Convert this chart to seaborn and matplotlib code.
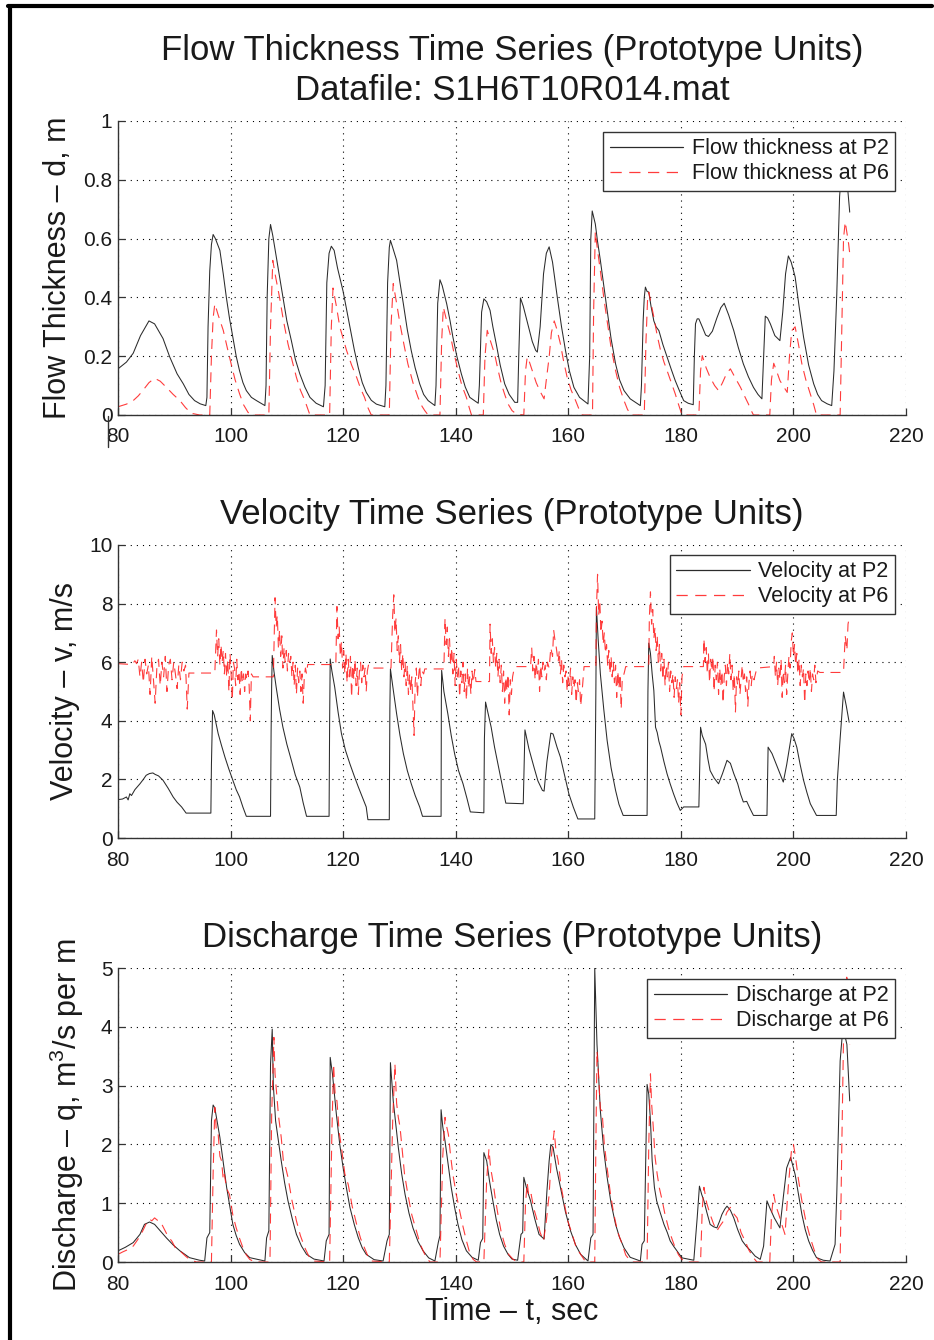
import matplotlib
matplotlib.use('Agg')
import matplotlib.pyplot as plt
import seaborn as sns
from matplotlib.lines import Line2D
from matplotlib.ticker import FormatStrFormatter

# ---------------- data ----------------
x_ticks = [80, 100, 120, 140, 160, 180, 200, 220]
thick_ticks = [0, 0.2, 0.4, 0.6, 0.8, 1]
vel_ticks = [0, 2, 4, 6, 8, 10]
q_ticks = [0, 1, 2, 3, 4, 5]

thick_p2_pts = [(80,0.157),(81.5,0.18),(82.7,0.21),(84.0,0.27),(85.5,0.32),(86.5,0.31),(88.0,0.26),(89.2,0.197),(90.5,0.14),(91.6,0.106),(92.6,0.07),(93.6,0.049),(94.6,0.038),(95.6,0.032),(95.8,0.06),(96.0,0.3),(96.3,0.49),(96.6,0.58),(96.9,0.614),(97.3,0.60),(98.1,0.56),(98.7,0.48),(99.25,0.40),(99.8,0.33),(100.4,0.265),(101.0,0.20),(101.6,0.15),(102.2,0.11),(102.8,0.083),(103.7,0.06),(104.6,0.049),(106.1,0.032),(106.3,0.1),(106.5,0.4),(106.8,0.6),(107.1,0.648),(107.5,0.61),(108.1,0.54),(108.7,0.47),(109.3,0.40),(110.0,0.32),(110.8,0.253),(111.5,0.19),(112.3,0.14),(113.2,0.095),(114.1,0.06),(115.2,0.04),(116.5,0.028),(116.8,0.1),(117.1,0.45),(117.5,0.55),(117.9,0.574),(118.4,0.56),(119.0,0.50),(120.0,0.42),(120.6,0.36),(121.2,0.30),(122.0,0.22),(122.7,0.16),(123.4,0.11),(124.1,0.077),(125.0,0.05),(125.9,0.037),(127.4,0.028),(127.6,0.1),(127.9,0.45),(128.2,0.57),(128.4,0.594),(128.8,0.57),(129.5,0.526),(130.1,0.45),(130.7,0.378),(131.4,0.29),(132.1,0.219),(132.8,0.16),(133.6,0.106),(134.3,0.07),(135.1,0.049),(136.3,0.032),(136.5,0.1),(136.8,0.38),(137.2,0.46),(137.6,0.44),(138.4,0.378),(139.0,0.32),(139.5,0.265),(140.2,0.2),(141.0,0.14),(141.7,0.095),(142.5,0.06),(144.0,0.04),(144.2,0.1),(144.6,0.35),(145.0,0.395),(145.5,0.385),(146.1,0.356),(146.6,0.30),(147.2,0.242),(147.9,0.17),(148.7,0.106),(149.5,0.07),(150.5,0.043),(151.0,0.043),(151.2,0.2),(151.5,0.398),(152.0,0.37),(152.8,0.31),(153.6,0.25),(154.2,0.22),(154.5,0.214),(155.0,0.3),(155.6,0.48),(156.1,0.55),(156.6,0.572),(157.2,0.52),(158.05,0.40),(158.8,0.30),(159.5,0.22),(160.2,0.15),(161.0,0.094),(162.0,0.06),(163.5,0.0375),(163.8,0.2),(164.0,0.6),(164.25,0.694),(164.8,0.65),(165.2,0.59),(165.7,0.526),(166.3,0.44),(166.9,0.356),(167.6,0.26),(168.4,0.174),(169.1,0.12),(169.9,0.083),(171.0,0.055),(172.8,0.032),(173.0,0.1),(173.3,0.32),(173.5,0.40),(173.7,0.435),(174.0,0.42),(174.3,0.418),(174.7,0.37),(175.2,0.32),(175.6,0.30),(176.1,0.287),(176.8,0.24),(177.55,0.197),(178.3,0.155),(179.0,0.117),(179.8,0.08),(180.5,0.049),(181.3,0.04),(182.2,0.035),(182.4,0.2),(182.6,0.31),(182.9,0.327),(183.2,0.327),(183.8,0.30),(184.4,0.272),(184.9,0.267),(185.6,0.285),(186.4,0.33),(187.1,0.365),(187.7,0.38),(188.5,0.34),(189.4,0.287),(190.2,0.23),(191.1,0.174),(192.0,0.13),(192.9,0.094),(193.7,0.07),(194.4,0.055),(194.7,0.2),(195.0,0.336),(195.4,0.33),(195.9,0.31),(196.7,0.27),(197.6,0.253),(198.1,0.35),(198.6,0.48),(199.1,0.541),(199.6,0.52),(200.3,0.47),(201.0,0.37),(201.8,0.265),(202.7,0.17),(203.6,0.106),(204.3,0.07),(205.0,0.049),(206.0,0.038),(206.8,0.032),(207.2,0.15),(207.7,0.41),(208.2,0.742),(208.6,0.85),(209.0,0.9),(209.5,0.8),(210.0,0.69)]

thick_p6_pts = [(80,0.028),(81.5,0.037),(82.7,0.049),(83.6,0.065),(84.4,0.083),(85.5,0.11),(86.5,0.125),(87.5,0.115),(88.6,0.094),(89.8,0.07),(91.0,0.049),(92.0,0.025),(93.0,0.006),(94.5,0.0),(96.3,0.0),(96.6,0.2),(96.9,0.33),(97.2,0.378),(97.8,0.34),(98.7,0.288),(99.4,0.23),(100.1,0.174),(100.8,0.12),(101.6,0.072),(102.3,0.035),(103.1,0.009),(103.7,0.0),(106.8,0.0),(107.1,0.3),(107.5,0.526),(108.0,0.47),(108.7,0.40),(109.4,0.32),(110.2,0.242),(111.0,0.18),(111.7,0.128),(112.4,0.085),(113.2,0.049),(114.1,0.0),(117.6,0.0),(117.9,0.3),(118.2,0.432),(118.8,0.37),(119.4,0.30),(120.0,0.26),(120.6,0.22),(121.5,0.17),(122.4,0.128),(123.1,0.09),(123.8,0.06),(124.4,0.025),(125.0,0.0),(128.2,0.0),(128.5,0.3),(128.9,0.447),(129.5,0.38),(130.1,0.31),(130.8,0.24),(131.5,0.174),(132.4,0.11),(133.3,0.06),(134.0,0.03),(134.5,0.015),(135.1,0.0),(137.2,0.0),(137.5,0.25),(137.8,0.367),(138.4,0.32),(139.0,0.276),(139.7,0.21),(140.4,0.151),(141.1,0.1),(141.9,0.06),(142.4,0.025),(142.8,0.0),(144.9,0.0),(145.2,0.2),(145.6,0.288),(146.2,0.25),(146.9,0.208),(147.5,0.155),(148.1,0.106),(148.7,0.07),(149.3,0.0375),(150.0,0.015),(150.8,0.003),(152.1,0.0),(152.4,0.15),(152.7,0.197),(153.1,0.18),(153.6,0.151),(154.3,0.11),(155.0,0.08),(155.7,0.055),(156.1,0.12),(156.6,0.197),(157.0,0.28),(157.5,0.32),(158.0,0.29),(158.6,0.242),(159.2,0.18),(159.8,0.128),(160.5,0.085),(161.3,0.049),(161.9,0.02),(162.5,0.0),(164.3,0.0),(164.5,0.35),(164.8,0.623),(165.2,0.56),(165.7,0.49),(166.3,0.40),(166.9,0.32),(167.6,0.23),(168.4,0.151),(169.1,0.095),(169.9,0.049),(170.5,0.02),(171.1,0.0),(173.5,0.0),(173.8,0.25),(174.1,0.40),(174.3,0.418),(174.7,0.38),(175.2,0.333),(175.8,0.27),(176.4,0.219),(177.0,0.18),(177.55,0.151),(178.3,0.11),(179.0,0.072),(179.6,0.035),(180.2,0.0),(183.2,0.0),(183.5,0.15),(183.8,0.202),(184.5,0.16),(185.2,0.128),(186.0,0.10),(186.7,0.083),(187.4,0.11),(188.1,0.14),(188.8,0.157),(189.7,0.125),(190.6,0.094),(191.3,0.065),(192.0,0.0375),(192.5,0.015),(192.9,0.0),(195.8,0.0),(196.1,0.12),(196.5,0.176),(197.0,0.15),(197.6,0.117),(198.3,0.095),(198.9,0.077),(199.3,0.2),(199.7,0.287),(200.3,0.30),(200.9,0.24),(201.5,0.174),(202.2,0.12),(203.0,0.072),(203.6,0.035),(204.1,0.0),(208.3,0.0),(208.6,0.3),(208.9,0.6),(209.2,0.657),(209.5,0.62),(209.8,0.583),(210.0,0.55)]

vel_p2_pts = [(80,1.31),(80.8,1.33),(81.5,1.40),(81.8,1.30),(82.1,1.51),(82.4,1.45),(83.0,1.65),(83.9,1.85),(84.5,2.0),(85.0,2.14),(85.6,2.2),(86.2,2.22),(86.6,2.17),(87.2,2.12),(88.0,1.97),(88.9,1.70),(89.8,1.40),(90.5,1.22),(91.3,1.06),(92.1,0.85),(96.5,0.85),(96.6,2.5),(96.8,4.35),(97.1,4.2),(97.8,3.56),(98.4,3.15),(99.0,2.76),(99.7,2.35),(100.4,1.97),(101.0,1.65),(101.6,1.40),(102.2,1.05),(102.8,0.74),(107.1,0.74),(107.2,3.6),(107.3,5.2),(107.4,6.23),(107.7,5.7),(108.1,5.15),(108.7,4.4),(109.3,3.78),(110.0,3.2),(110.8,2.65),(111.5,2.15),(112.3,1.74),(112.9,1.2),(113.5,0.74),(117.5,0.74),(117.6,4.0),(117.7,6.11),(118.0,5.7),(118.5,5.15),(119.1,4.3),(119.7,3.56),(120.4,3.0),(121.2,2.53),(122.0,2.1),(122.7,1.74),(123.4,1.4),(124.1,1.06),(124.4,0.625),(128.2,0.625),(128.3,4.4),(128.4,5.77),(128.8,5.2),(129.5,4.24),(130.1,3.5),(130.7,2.88),(131.4,2.3),(132.1,1.85),(132.8,1.45),(133.6,1.06),(134.1,0.74),(137.4,0.74),(137.45,4.8),(137.5,5.72),(137.9,5.0),(138.6,4.24),(139.2,3.5),(139.8,2.88),(140.5,2.3),(141.3,1.85),(142.0,1.35),(142.6,0.89),(145.0,0.86),(145.1,3.4),(145.3,4.64),(145.7,4.3),(146.3,3.78),(146.9,3.1),(147.5,2.53),(148.2,1.85),(148.9,1.19),(152.0,1.17),(152.3,3.69),(153.0,3.05),(153.9,2.42),(154.6,1.95),(155.4,1.625),(155.7,1.6),(156.2,2.6),(156.9,3.58),(157.3,3.55),(158.0,3.1),(158.6,2.76),(159.4,2.1),(160.1,1.51),(160.9,1.05),(161.7,0.65),(164.7,0.65),(164.9,5.0),(165.0,7.875),(165.3,6.8),(165.7,5.6),(166.3,4.4),(166.9,3.33),(167.6,2.4),(168.4,1.625),(169.0,1.15),(169.75,0.77),(174.0,0.77),(174.15,5.0),(174.3,6.65),(174.6,6.3),(174.9,5.6),(175.2,5.03),(175.5,3.78),(175.8,3.6),(176.1,3.3),(176.4,3.1),(177.0,2.6),(177.55,2.19),(178.1,1.85),(178.7,1.51),(179.3,1.2),(179.9,0.94),(180.5,1.06),(183.2,1.06),(183.5,3.78),(183.8,3.5),(184.4,3.2),(184.8,2.7),(185.2,2.3),(185.9,2.05),(186.7,1.85),(187.4,2.2),(188.2,2.65),(188.8,2.55),(189.4,2.2),(190.1,1.85),(190.6,1.5),(191.1,1.23),(191.7,1.25),(192.3,1.0),(192.9,0.77),(195.3,0.77),(195.5,3.10),(196.2,2.88),(197.2,2.4),(198.2,1.91),(198.8,2.5),(199.7,3.56),(200.1,3.4),(200.6,3.1),(201.2,2.5),(201.8,1.97),(202.4,1.55),(203.0,1.17),(204.1,0.77),(207.6,0.77),(207.8,1.97),(208.3,3.4),(208.9,4.98),(209.4,4.5),(209.9,3.95)]

vel_p6_pts = [(80,5.95),(82.5,5.92),(83.0,6.05),(83.3,5.95),(83.6,6.1),(83.9,5.5),(84.2,6.0),(84.5,5.3),(84.8,6.1),(85.1,5.6),(85.4,5.9),(85.7,4.9),(86.0,6.2),(86.3,5.4),(86.6,4.6),(86.9,5.8),(87.2,6.1),(87.5,5.2),(87.8,6.0),(88.1,5.5),(88.4,6.2),(88.7,5.0),(89.0,5.9),(89.3,6.1),(89.6,5.4),(89.9,6.0),(90.2,5.6),(90.5,5.1),(90.8,5.9),(91.1,5.4),(91.4,6.0),(91.7,5.7),(92.0,5.9),(92.3,4.4),(92.6,5.63),(97.2,5.63),
(97.5,7.1),(97.7,6.2),(97.9,6.8),(98.1,5.9),(98.3,6.6),(98.5,6.0),(98.7,6.4),(98.9,5.6),(99.1,6.3),(99.3,5.5),(99.5,6.1),(99.7,5.0),(99.9,6.3),(100.1,5.6),(100.3,4.7),(100.5,6.0),(100.7,5.8),(100.9,5.2),(101.1,6.1),(101.3,5.4),(101.5,5.7),(101.7,4.9),(101.9,5.8),(102.1,5.3),(102.3,5.6),(102.5,5.0),(102.7,5.6),(102.9,5.4),(103.1,5.7),(103.3,5.2),(103.5,4.0),(103.7,5.6),(104.0,5.5),(107.6,5.5),
(107.9,8.2),(108.1,7.2),(108.3,7.6),(108.5,6.5),(108.7,7.1),(108.9,6.2),(109.1,6.9),(109.3,5.8),(109.5,6.5),(109.7,6.0),(109.9,6.4),(110.1,5.7),(110.3,6.3),(110.5,6.0),(110.7,6.2),(110.9,5.5),(111.1,6.0),(111.3,5.2),(111.5,5.9),(111.7,4.9),(111.9,5.8),(112.1,5.3),(112.3,5.7),(112.5,5.0),(112.7,5.6),(112.9,4.6),(113.1,5.5),(113.3,5.8),(113.5,5.6),(113.7,5.92),(118.7,5.92),
(118.9,7.9),(119.1,6.8),(119.3,7.2),(119.5,6.2),(119.7,6.7),(119.9,5.8),(120.1,6.4),(120.3,5.6),(120.5,6.3),(120.7,5.3),(120.9,6.1),(121.1,5.5),(121.3,6.2),(121.5,4.8),(121.7,5.9),(121.9,5.4),(122.1,6.1),(122.3,5.2),(122.5,5.8),(122.7,4.9),(122.9,5.7),(123.1,6.0),(123.3,5.3),(123.5,5.9),(123.7,5.5),(123.9,5.8),(124.1,5.0),(124.3,5.7),(124.5,5.9),(124.7,5.8),(128.5,5.8),
(128.8,7.6),(129.0,8.3),(129.2,7.0),(129.4,7.5),(129.6,6.4),(129.8,6.9),(130.0,6.0),(130.2,6.6),(130.4,5.7),(130.6,6.3),(130.8,5.5),(131.0,6.0),(131.2,5.2),(131.4,5.9),(131.6,4.9),(131.8,5.6),(132.0,5.0),(132.2,5.5),(132.4,4.5),(132.6,3.5),(132.8,5.3),(133.0,5.8),(133.2,4.8),(133.4,5.5),(133.6,5.9),(133.8,5.2),(134.0,5.7),(134.3,5.6),(134.5,5.77),(137.9,5.77),
(138.1,7.5),(138.3,6.6),(138.5,7.2),(138.7,6.2),(138.9,6.8),(139.1,5.9),(139.3,6.5),(139.5,5.6),(139.7,6.3),(139.9,5.2),(140.1,6.1),(140.3,5.5),(140.5,5.9),(140.7,4.8),(140.9,5.7),(141.1,5.3),(141.3,6.0),(141.5,5.0),(141.7,5.6),(141.9,4.7),(142.1,5.8),(142.3,5.1),(142.5,5.5),(142.7,4.9),(142.9,5.7),(143.1,5.3),(143.4,5.75),(143.6,5.34),(146.0,5.34),
(146.1,7.3),(146.3,6.3),(146.5,6.8),(146.7,6.0),(146.9,6.5),(147.1,5.8),(147.3,6.3),(147.5,5.5),(147.7,6.1),(147.9,5.3),(148.1,5.9),(148.3,5.0),(148.5,5.7),(148.7,4.6),(148.9,5.5),(149.1,5.0),(149.3,5.6),(149.5,4.2),(149.7,5.4),(149.9,4.9),(150.1,5.5),(150.4,5.8),(150.6,5.85),(153.3,5.85),
(153.5,6.5),(153.7,5.7),(153.9,6.2),(154.1,5.4),(154.3,6.0),(154.5,5.6),(154.7,6.1),(154.9,5.0),(155.1,5.9),(155.3,5.5),(155.5,6.0),(155.7,5.7),(155.9,5.9),(156.1,5.4),(156.3,6.0),(156.6,5.8),(156.9,6.5),(157.2,6.2),(157.4,7.1),(157.6,6.8),(157.8,6.6),(158.0,6.3),(158.2,6.0),(158.4,6.4),(158.6,5.6),(158.8,6.1),(159.0,5.3),(159.2,5.9),(159.4,5.5),(159.6,5.7),(159.8,5.0),(160.0,5.6),(160.2,5.2),(160.4,5.8),(160.6,4.9),(160.8,5.5),(161.0,5.1),(161.2,5.4),(161.4,4.6),(161.6,5.3),(161.8,5.0),(162.0,5.4),(162.2,4.5),(162.5,5.1),(162.8,5.85),(164.9,5.85),
(165.0,7.8),(165.2,9.0),(165.4,7.6),(165.6,8.1),(165.8,7.0),(166.0,7.4),(166.2,6.6),(166.4,7.0),(166.6,6.3),(166.8,6.6),(167.0,5.9),(167.2,6.4),(167.4,5.6),(167.6,6.2),(167.8,5.5),(168.0,6.0),(168.2,5.3),(168.4,5.9),(168.6,4.8),(168.8,5.7),(169.0,5.1),(169.2,5.6),(169.4,4.4),(169.6,5.5),(169.9,5.6),(170.2,5.85),(174.3,5.85),
(174.4,7.5),(174.6,8.4),(174.8,7.3),(175.0,7.8),(175.2,6.8),(175.4,7.2),(175.6,6.4),(175.8,6.9),(176.0,6.0),(176.2,6.6),(176.4,5.7),(176.6,6.3),(176.8,5.4),(177.0,6.1),(177.2,5.2),(177.4,5.9),(177.6,5.5),(177.8,6.0),(178.0,5.0),(178.2,5.7),(178.4,5.3),(178.6,5.6),(178.8,4.8),(179.0,5.5),(179.2,5.1),(179.4,5.4),(179.6,4.6),(179.8,5.3),(180.0,4.2),(180.2,5.5),(180.5,5.85),(184.0,5.85),
(184.1,6.8),(184.3,6.0),(184.5,6.5),(184.7,5.6),(184.9,6.3),(185.1,5.3),(185.3,6.1),(185.5,5.7),(185.7,6.2),(185.9,5.0),(186.1,5.9),(186.3,5.4),(186.5,6.0),(186.7,4.9),(186.9,5.8),(187.1,5.2),(187.3,5.7),(187.5,4.6),(187.7,5.5),(187.9,5.9),(188.1,5.2),(188.3,6.0),(188.5,5.6),(188.7,6.3),(188.9,5.4),(189.1,5.9),(189.3,5.0),(189.5,5.6),(189.7,4.3),(189.9,5.5),(190.1,5.2),(190.3,5.7),(190.5,4.9),(190.7,5.4),(190.9,5.9),(191.1,5.3),(191.3,5.6),(191.5,5.0),(191.7,5.5),(191.9,4.5),(192.1,5.3),(192.3,5.7),(192.5,5.2),(192.7,5.6),(193.0,5.4),(193.5,5.8),(196.5,5.85),
(196.6,6.2),(196.8,5.5),(197.0,6.0),(197.2,5.2),(197.4,5.8),(197.6,5.4),(197.8,6.1),(198.0,4.8),(198.2,5.7),(198.4,5.3),(198.6,5.9),(198.8,4.9),(199.0,5.6),(199.2,6.2),(199.4,5.8),(199.6,6.7),(199.8,7.0),(200.0,6.2),(200.2,6.6),(200.4,5.9),(200.6,6.3),(200.8,5.6),(201.0,6.1),(201.2,5.2),(201.4,5.9),(201.6,5.5),(201.8,5.8),(202.0,4.6),(202.2,5.6),(202.4,5.2),(202.6,5.7),(202.8,5.3),(203.0,5.8),(203.2,5.0),(203.4,5.6),(203.6,5.4),(203.8,5.9),(204.0,5.3),(204.3,5.7),(204.7,5.65),(208.9,5.65),(209.2,6.9),(209.5,6.4),(209.7,7.3),(210.0,7.6)]

q_p2_pts = [(80,0.19),(81.3,0.25),(82.7,0.33),(83.9,0.47),(84.7,0.64),(85.6,0.68),(86.5,0.64),(87.5,0.53),(88.6,0.41),(89.8,0.29),(91.0,0.19),(92.7,0.074),(94.5,0.03),(95.4,0.017),(95.8,0.41),(96.3,0.5),(96.6,2.4),(96.9,2.67),(97.2,2.62),(98.1,2.12),(98.7,1.7),(99.3,1.27),(99.9,0.93),(100.4,0.64),(101.0,0.45),(101.6,0.3),(102.5,0.16),(103.4,0.074),(106.1,0.017),(106.4,0.41),(106.8,0.53),(107.1,3.37),(107.4,3.96),(107.6,3.0),(108.0,2.4),(109.0,1.72),(109.6,1.35),(110.2,1.04),(111.0,0.72),(111.7,0.47),(112.6,0.27),(113.5,0.13),(114.8,0.05),(116.6,0.017),(117.0,0.36),(117.5,0.47),(117.7,3.48),(118.1,3.2),(118.8,2.51),(119.4,2.0),(120.0,1.6),(120.6,1.25),(121.2,0.93),(122.0,0.63),(122.7,0.41),(123.4,0.24),(124.1,0.13),(125.5,0.04),(127.1,0.017),(127.8,0.36),(128.2,0.47),(128.4,3.39),(128.9,2.74),(129.4,2.3),(129.8,1.95),(130.4,1.5),(131.0,1.15),(131.7,0.83),(132.4,0.58),(133.3,0.35),(134.2,0.19),(135.2,0.07),(136.3,0.017),(136.9,0.33),(137.2,0.45),(137.4,2.59),(137.7,2.3),(138.1,2.06),(138.6,1.7),(139.2,1.27),(139.8,0.93),(140.4,0.64),(141.1,0.38),(141.9,0.19),(142.9,0.08),(144.0,0.03),(144.4,0.33),(144.8,0.4),(145.0,1.86),(145.5,1.72),(146.0,1.38),(146.6,1.04),(147.2,0.72),(147.8,0.47),(148.5,0.27),(149.3,0.13),(150.0,0.05),(151.0,0.03),(151.6,0.47),(151.9,0.5),(152.1,1.44),(152.6,1.25),(153.3,1.04),(154.0,0.75),(154.8,0.47),(155.7,0.39),(156.2,1.2),(156.6,1.72),(156.9,2.0),(157.3,1.95),(157.9,1.6),(158.6,1.27),(159.5,0.85),(160.4,0.53),(161.3,0.29),(162.2,0.13),(163.5,0.017),(164.0,0.41),(164.4,0.47),(164.7,5.0),(165.1,3.7),(165.7,2.57),(166.3,1.9),(166.9,1.44),(167.6,1.0),(168.4,0.64),(169.1,0.42),(169.9,0.24),(171.0,0.08),(172.8,0.017),(173.1,0.3),(173.5,0.36),(174.0,3.02),(174.3,2.85),(174.6,2.4),(174.9,1.72),(175.3,1.27),(175.7,1.04),(176.3,0.85),(177.0,0.64),(177.6,0.5),(178.1,0.36),(178.7,0.27),(179.3,0.19),(180.2,0.07),(182.3,0.03),(182.9,0.75),(183.3,1.29),(183.7,1.15),(184.1,1.04),(184.6,0.85),(185.2,0.64),(185.8,0.6),(186.4,0.58),(186.9,0.7),(187.3,0.81),(187.8,0.9),(188.2,0.95),(188.8,0.88),(189.4,0.75),(190.1,0.55),(190.9,0.36),(191.6,0.27),(192.4,0.19),(193.2,0.1),(194.1,0.045),(194.7,0.27),(195.3,1.04),(195.8,0.92),(196.6,0.75),(197.6,0.58),(198.2,1.1),(198.8,1.6),(199.5,1.78),(200.3,1.49),(200.9,1.15),(201.5,0.81),(202.1,0.55),(202.7,0.36),(203.4,0.2),(204.1,0.074),(205.3,0.03),(206.5,0.017),(207.4,0.3),(207.7,1.15),(208.3,3.42),(208.8,4.0),(209.5,3.7),(210.0,2.74)]

q_p6_pts = [(80,0.13),(80.8,0.17),(81.5,0.2),(82.7,0.27),(83.5,0.38),(84.4,0.53),(85.0,0.65),(85.6,0.73),(86.0,0.70),(86.5,0.75),(87.0,0.71),(87.4,0.70),(87.9,0.62),(88.8,0.45),(89.6,0.35),(90.3,0.22),(91.0,0.19),(92.0,0.1),(92.7,0.045),(93.9,0.0),(96.6,0.0),(96.9,1.5),(97.2,2.63),(97.5,2.2),(97.8,2.17),(98.1,1.8),(98.4,1.72),(98.7,1.4),(98.9,1.49),(99.3,1.25),(99.8,1.15),(100.4,0.8),(101.0,0.58),(101.6,0.4),(102.2,0.24),(102.8,0.12),(103.4,0.045),(104.3,0.0),(107.0,0.0),(107.3,2.5),(107.7,3.82),(107.9,3.2),(108.1,2.97),(108.5,2.5),(109.0,2.12),(109.4,1.7),(109.8,1.6),(110.2,1.44),(110.9,1.05),(111.7,0.7),(112.4,0.45),(113.2,0.24),(113.9,0.1),(114.7,0.017),(117.6,0.0),(118.0,2.2),(118.3,3.37),(118.6,2.8),(118.9,2.74),(119.3,2.2),(119.7,1.95),(120.3,1.5),(120.9,1.32),(121.6,0.95),(122.4,0.64),(123.1,0.4),(123.8,0.24),(124.4,0.1),(125.0,0.017),(128.2,0.0),(128.8,2.4),(129.2,3.37),(129.5,2.7),(129.8,2.46),(130.1,2.3),(130.4,2.0),(130.9,1.5),(131.5,1.15),(132.2,0.8),(133.0,0.53),(133.7,0.3),(134.5,0.13),(135.4,0.0),(137.2,0.0),(137.7,1.8),(138.1,2.46),(138.4,2.3),(138.7,2.17),(139.1,1.8),(139.5,1.49),(140.1,1.15),(140.7,0.87),(141.3,0.6),(141.9,0.36),(142.5,0.15),(143.1,0.045),(143.7,0.0),(145.0,0.0),(145.5,1.4),(145.9,1.92),(146.2,1.6),(146.6,1.38),(147.0,1.1),(147.5,0.81),(148.1,0.5),(148.7,0.3),(149.4,0.13),(150.2,0.045),(151.0,0.0),(152.1,0.0),(152.4,1.0),(152.7,1.35),(153.0,1.1),(153.4,1.15),(153.9,0.9),(154.5,0.7),(155.0,0.5),(155.6,0.36),(156.1,0.7),(156.6,1.15),(157.0,1.8),(157.5,2.23),(157.8,1.9),(158.2,1.72),(158.7,1.3),(159.2,1.04),(159.9,0.7),(160.7,0.47),(161.4,0.25),(162.2,0.13),(163.1,0.0),(164.7,0.0),(164.9,2.0),(165.1,3.59),(165.4,3.14),(165.7,2.6),(166.0,2.57),(166.4,2.0),(166.9,1.6),(167.5,1.15),(168.1,0.81),(168.8,0.5),(169.6,0.3),(170.2,0.12),(170.8,0.045),(171.4,0.0),(174.0,0.0),(174.3,2.0),(174.6,3.2),(174.8,2.7),(175.1,2.29),(175.4,1.8),(175.8,1.49),(176.2,1.25),(176.7,1.04),(177.2,0.8),(177.8,0.58),(178.4,0.4),(179.0,0.24),(179.6,0.12),(180.2,0.045),(180.8,0.0),(183.5,0.0),(183.8,0.9),(184.1,1.27),(184.6,1.0),(185.2,0.81),(185.8,0.65),(186.4,0.53),(187.0,0.62),(187.6,0.70),(188.2,0.85),(188.8,0.93),(189.4,0.82),(190.0,0.75),(190.7,0.5),(191.4,0.36),(192.1,0.2),(192.9,0.074),(193.5,0.0),(195.8,0.0),(196.1,0.8),(196.5,1.15),(196.9,0.95),(197.4,0.81),(197.9,0.65),(198.5,0.47),(199.1,1.3),(199.7,1.95),(200.0,2.0),(200.3,1.83),(200.9,1.4),(201.5,1.04),(202.2,0.7),(203.0,0.41),(203.7,0.2),(204.4,0.045),(205.0,0.0),(208.3,0.0),(208.6,2.0),(208.9,3.82),(209.2,4.4),(209.5,4.9),(209.8,4.2),(210.0,3.7)]

titles = ["Flow Thickness Time Series (Prototype Units)\nDatafile: S1H6T10R014.mat",
          "Velocity Time Series (Prototype Units)",
          "Discharge Time Series (Prototype Units)"]
ylabels = ["Flow Thickness \u2013 d, m", "Velocity \u2013 v, m/s",
           "Discharge \u2013 q, m$^{3}$/s per m"]
xlabel = "Time \u2013 t, sec"
legend_labels = [("Flow thickness at P2", "Flow thickness at P6"),
                 ("Velocity at P2", "Velocity at P6"),
                 ("Discharge at P2", "Discharge at P6")]

# ---------------- style ----------------
sns.set_theme(style='white')
plt.rcParams['font.family'] = ['Liberation Sans', 'DejaVu Sans']
plt.rcParams['mathtext.fontset'] = 'custom'
plt.rcParams['mathtext.rm'] = 'Liberation Sans'
plt.rcParams['mathtext.it'] = 'Liberation Sans:italic'
plt.rcParams['mathtext.bf'] = 'Liberation Sans:bold'

TXT = '#1a1a1a'
BLACK = '#2b2b2b'
RED = '#ff1a1a'

W, H = 934, 1340
fig = plt.figure(figsize=(W / 100, H / 100), dpi=100)
fig.patch.set_facecolor('white')

def fx(px):
    return px / W

def fy(py):
    return 1 - py / H

boxes = [(121, 415), (545, 838), (968, 1262)]
left_px, right_px = 118, 906
series = [(thick_p2_pts, thick_p6_pts, thick_ticks, (0, 1)),
          (vel_p2_pts, vel_p6_pts, vel_ticks, (0, 10)),
          (q_p2_pts, q_p6_pts, q_ticks, (0, 5))]
legend_top = [132, 555, 979]

axes = []
for i, ((top, bot), (p2, p6, yt, ylim)) in enumerate(zip(boxes, series)):
    ax = fig.add_axes([fx(left_px), fy(bot), fx(right_px - left_px), (bot - top) / H])
    axes.append(ax)
    t2 = [p[0] for p in p2]; v2 = [p[1] for p in p2]
    t6 = [p[0] for p in p6]; v6 = [p[1] for p in p6]
    sns.lineplot(x=t2, y=v2, ax=ax, color=BLACK, lw=0.75, sort=False,
                 estimator=None, label=legend_labels[i][0], legend=False)
    sns.lineplot(x=t6, y=v6, ax=ax, color=RED, lw=0.8, alpha=0.85, sort=False,
                 estimator=None, label=legend_labels[i][1], legend=False)
    ax.lines[-1].set_linestyle((0, (9, 6)))
    ax.set_xlim(80, 220)
    ax.set_ylim(*ylim)
    ax.set_xticks(x_ticks)
    ax.set_yticks(yt)
    ax.yaxis.set_major_formatter(FormatStrFormatter('%g'))
    ax.grid(True, color='black', linestyle=(0, (1, 4.5)), lw=0.8)
    ax.set_axisbelow(True)
    for s in ['top', 'right']:
        ax.spines[s].set_visible(False)
    for s in ['left', 'bottom']:
        ax.spines[s].set_color('#333333')
        ax.spines[s].set_linewidth(1.0)
    ax.tick_params(axis='both', direction='in', length=5, width=0.9,
                   color='#333333', labelsize=15, labelcolor=TXT,
                   bottom=True, left=True, top=False, right=False)
    ax.tick_params(axis='x', pad=9)
    ax.tick_params(axis='y', pad=4)
    ax.set_xlabel('')
    ax.set_ylabel('')
    h = [Line2D([], [], color=BLACK, lw=0.9),
         Line2D([], [], color=RED, lw=0.9, alpha=0.85, linestyle=(0, (9, 6)))]
    ly = (bot - legend_top[i]) / (bot - top)
    leg = ax.legend(h, legend_labels[i], loc='upper right',
                    bbox_to_anchor=(0.986, ly), borderaxespad=0,
                    fontsize=15.5, frameon=True, fancybox=False,
                    handlelength=3.4, handletextpad=0.4, labelspacing=0.18,
                    borderpad=0.3, framealpha=1)
    leg.get_frame().set_edgecolor('#333333')
    leg.get_frame().set_linewidth(1.0)
    for t in leg.get_texts():
        t.set_color(TXT)

# titles
cx = 512
fig.text(fx(cx), fy(60), titles[0].split('\n')[0], ha='center', va='baseline',
         fontsize=25, color=TXT)
fig.text(fx(cx), fy(100), titles[0].split('\n')[1], ha='center', va='baseline',
         fontsize=25, color=TXT)
fig.text(fx(cx), fy(524), titles[1], ha='center', va='baseline', fontsize=25, color=TXT)
fig.text(fx(cx), fy(947), titles[2], ha='center', va='baseline', fontsize=25, color=TXT)

# y labels
ylab_pos = [(66, 268), (73, 691), (77, 1115)]
for lab, (px, py) in zip(ylabels, ylab_pos):
    fig.text(fx(px), fy(py), lab, rotation=90, rotation_mode='anchor',
             ha='center', va='baseline', fontsize=22, color=TXT)

# x label
fig.text(fx(cx), fy(1320), xlabel, ha='center', va='baseline', fontsize=22, color=TXT)

# figure frame (left and top edges) and small mark under the first axes
fig.add_artist(Line2D([fx(9.5), fx(9.5)], [fy(6), 0], transform=fig.transFigure,
                      color='black', lw=3))
fig.add_artist(Line2D([fx(8), fx(932)], [fy(6), fy(6)], transform=fig.transFigure,
                      color='black', lw=3))
fig.add_artist(Line2D([fx(107.5), fx(107.5)], [fy(416), fy(447)], transform=fig.transFigure,
                      color='#333333', lw=1))

fig.savefig('out.png', dpi=100)
